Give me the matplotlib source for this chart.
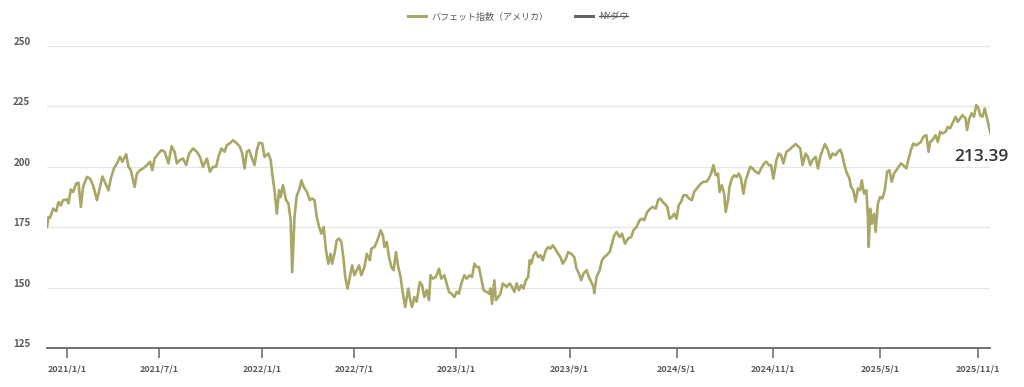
import matplotlib
matplotlib.use("Agg")
import matplotlib.pyplot as plt
import matplotlib.transforms as mtransforms
from matplotlib.lines import Line2D

plt.rcParams['font.family'] = ['Noto Sans CJK JP', 'DejaVu Sans']

# バフェット指数（アメリカ） - category index of each reading and its value
day_idx = [0, 2, 4, 8, 12, 15, 18, 21, 26, 28, 31, 34, 38, 41, 44, 47, 52, 56, 60, 65,
           68, 72, 76, 80, 83, 87, 91, 95, 98, 103, 106, 109, 114, 117, 121, 125, 130, 134, 137, 140,
           145, 149, 153, 158, 162, 166, 169, 173, 177, 181, 185, 190, 195, 199, 203, 208, 212,
           216, 220, 223, 227, 231, 234, 238, 242, 247, 251, 254, 257, 260, 263, 266, 270, 273, 276,
           280, 283, 288, 291, 293, 296, 299, 302, 304, 307, 311, 314, 317, 319, 322, 325, 328, 331,
           334, 338, 342, 345, 348, 351, 354, 357, 360, 363, 366, 369, 371, 374, 377, 380, 383, 386,
           388, 391, 394, 397, 400, 403, 406, 409, 413, 416, 420,
           422, 426, 429, 432, 434, 437, 439, 442, 445, 448, 451, 454, 457, 460, 463, 466, 470, 473,
           475, 478, 481, 485, 488, 491, 494, 497, 499, 502, 506, 510, 513, 517, 520, 523, 526, 530,
           533, 536, 539, 543, 546, 550, 553, 556, 559, 562, 565, 568, 572, 575, 577, 579, 582, 584,
           587, 590, 593, 598, 602, 605, 608, 611, 614, 617, 620, 623, 626, 628,
           630, 633, 636, 639, 642, 645, 649, 652, 655, 658, 661, 665, 668, 671, 675, 678, 682, 686,
           689, 692, 695, 698, 702, 705, 708, 711, 712, 715, 719, 722, 725, 728, 732, 735, 738, 741,
           745, 748, 752, 756, 760, 763, 767, 771, 774, 777, 781, 785, 788, 792, 795, 798, 801, 805,
           807, 810, 813, 816, 819, 822, 825, 828, 832, 835,
           839, 842, 847, 851, 854, 858, 861, 864, 867, 870, 873, 875, 878, 881, 883, 886, 888, 891,
           894, 897, 900, 903, 906, 909, 912, 915, 918, 922, 926, 929, 933, 936, 939, 942, 945, 949,
           952, 955, 958, 962, 966, 970, 974, 977, 980, 983, 987, 990, 993, 996, 1000, 1003, 1006,
           1009, 1012, 1016, 1019, 1022, 1026, 1029, 1032, 1034, 1037, 1040, 1044,
           1046, 1049, 1052, 1055, 1058, 1060, 1063, 1066, 1068, 1069, 1071, 1073, 1076, 1078, 1081,
           1084, 1087, 1090, 1093, 1096, 1099, 1102, 1105, 1108, 1111, 1114, 1118, 1121, 1124, 1127,
           1131, 1134, 1137, 1140, 1144, 1147, 1149, 1152, 1156, 1159, 1162, 1165, 1169, 1172, 1175,
           1178, 1182, 1185, 1188, 1191, 1195, 1197, 1200, 1203, 1206, 1209, 1212, 1214, 1217, 1220,
           1223, 1225, 1227, 1228]

buffett = [175.0, 179.2, 178.9, 182.7, 181.6, 185.4, 184.0, 186.2, 186.5, 184.9, 190.6, 189.6, 193.1,
           193.4, 183.4, 191.8, 195.8, 195.1, 192.3, 186.2,
           190.3, 196.0, 193.1, 190.3, 195.1, 199.3, 201.4, 204.1, 202.1, 205.2, 200.0, 198.6, 191.7,
           197.2, 198.6, 199.3, 200.7, 202.1, 198.6, 203.4,
           205.5, 206.9, 206.2, 201.4, 208.5, 206.2, 201.4, 202.8, 203.4, 200.7, 205.5, 207.6, 206.2,
           204.1, 200.0, 203.4, 197.9,
           200.0, 200.0, 204.1, 207.6, 206.2, 209.0, 209.7, 211.0, 209.7, 208.3, 205.5, 199.3, 206.2,
           206.9, 204.1, 200.7, 206.9, 209.9,
           209.7, 204.1, 205.5, 202.8, 197.2, 190.3, 180.6, 190.3, 187.5, 192.4, 186.2, 184.9, 177.9,
           156.4, 179.2, 188.1, 190.3, 194.4,
           191.7, 189.6, 186.2, 186.9, 186.2, 179.2, 175.1, 172.3, 175.1, 165.4, 159.9, 164.0, 159.9,
           164.0, 169.6, 170.3, 168.9, 161.3,
           154.4, 149.6, 154.4, 159.2, 155.1, 157.2, 159.2, 155.1, 158.5, 164.0, 161.3,
           166.1, 166.8, 168.9, 171.6, 173.7, 171.6, 166.8, 168.9, 162.6, 158.5, 157.2, 164.7, 158.5,
           154.4, 147.5, 142.0, 149.6, 144.2,
           142.0, 146.1, 144.2, 152.3, 151.0, 146.1, 148.9, 144.8, 155.1, 153.7, 154.4, 157.8, 153.7,
           155.1, 151.7, 148.2, 147.5, 146.1,
           148.2, 147.5, 151.7, 155.1, 153.7, 155.1, 154.4, 159.9, 158.5, 158.5, 153.7, 148.9, 148.2,
           147.5, 149.6, 143.3, 153.0, 144.8,
           146.1, 147.5, 151.7, 150.3, 151.7, 150.3, 148.2, 151.7, 148.9, 151.0, 149.6, 153.0, 154.4, 161.3,
           159.9, 163.4, 164.7, 162.6, 163.4, 161.3, 165.4, 166.8, 166.1, 167.5, 166.1, 164.0, 162.6,
           159.9, 161.9, 164.7, 164.0, 162.6,
           157.8, 155.8, 153.0, 155.8, 157.2, 154.4, 152.3, 150.3, 147.7, 154.4, 157.2, 161.3, 162.6,
           163.4, 164.7, 168.2, 171.6, 173.0,
           170.9, 172.3, 168.2, 170.3, 170.9, 173.7, 175.1, 177.9, 178.5, 177.9, 181.3, 182.7, 183.4,
           182.7, 186.2, 186.9, 185.5, 184.2,
           183.4, 178.5, 179.2, 180.6, 178.5, 184.2, 185.5, 188.2, 188.2, 186.9,
           186.2, 189.6, 191.7, 193.1, 193.8, 193.8, 195.1, 197.2, 200.7, 196.5, 197.2, 189.6, 192.4,
           188.8, 181.3, 186.2, 191.7, 195.1,
           196.5, 195.8, 197.2, 195.1, 188.8, 194.4, 197.2, 200.0, 199.3, 197.9, 197.2, 199.3, 201.4,
           202.1, 200.7, 200.7, 195.1, 202.8,
           205.5, 204.8, 201.4, 206.2, 207.1, 208.3, 209.4, 208.5, 207.6, 200.7, 205.5, 204.1, 200.7,
           202.8, 204.1, 199.3, 204.1,
           206.9, 209.4, 206.9, 203.4, 205.5, 204.8, 206.2, 207.1, 205.5, 201.4, 197.9, 195.1,
           191.7, 190.3, 185.5, 191.0, 190.3, 194.4, 188.9, 190.3, 179.2, 166.8, 182.6, 176.4, 180.5,
           173.0, 184.8,
           187.5, 186.9, 190.3, 197.9, 198.6, 193.8, 197.2, 198.6, 200.0, 201.4, 200.7, 199.3, 203.4,
           206.9, 209.6,
           208.9, 209.6, 210.3, 212.4, 213.1, 206.2, 210.3, 211.0, 213.1, 210.3, 214.5, 213.8, 214.5,
           216.5, 215.9,
           218.0, 220.7, 218.6, 220.0, 221.4, 220.0, 215.2, 220.0, 222.1, 220.7, 225.5, 224.1, 221.4,
           220.7, 224.1,
           220.0, 217.2, 214.5, 213.39]

tick_idx = [26, 146, 280, 400, 532, 680, 819, 945, 1084, 1211]
tick_labels = ['2021/1/1', '2021/7/1', '2022/1/1', '2022/7/1', '2023/1/1',
               '2023/9/1', '2024/5/1', '2024/11/1', '2025/5/1', '2025/11/1']
y_ticks = [125, 150, 175, 200, 225, 250]

line_color = '#a9a766'
text_color = '#5a5a5a'

fig = plt.figure(figsize=(10.24, 3.87), dpi=100)
ax = fig.add_axes([0.0459, 0.1008, 0.9210, 0.7804])

ax.plot(day_idx, buffett, color=line_color, lw=1.9, solid_joinstyle='round')

ax.set_xlim(0, 1227)
ax.set_ylim(125, 250)
ax.set_yticks(y_ticks)
ax.set_xticks(tick_idx)
ax.set_xticklabels(tick_labels)

for s in ['top', 'right', 'left']:
    ax.spines[s].set_visible(False)
ax.spines['bottom'].set_color('#666666')
ax.spines['bottom'].set_linewidth(1.3)
ax.grid(axis='y', color='#e6e6e6', lw=0.9)
ax.set_axisbelow(True)

ax.tick_params(axis='y', length=0, pad=12, labelsize=7, labelcolor=text_color)
ax.tick_params(axis='x', length=7, width=1.1, color='#666666', pad=5,
               labelsize=6.5, labelcolor=text_color)
for lab in ax.get_xticklabels() + ax.get_yticklabels():
    lab.set_fontweight('bold')

# y labels sit a little above their grid lines
shift = mtransforms.ScaledTranslation(0, 5 / 100, fig.dpi_scale_trans)
for lab in ax.get_yticklabels():
    lab.set_transform(lab.get_transform() + shift)
    lab.set_horizontalalignment('right')

# last value label
ax.annotate(f'{buffett[-1]:.2f}', xy=(day_idx[-1], buffett[-1]), xytext=(-7, -16),
            textcoords='offset points', ha='center', va='center', fontsize=12.5,
            family=['Open Sans', 'DejaVu Sans'], fontweight='semibold',
            color='#333333', annotation_clip=False)

# legend (NYダウ is shown as hidden / struck through)
handles = [Line2D([], [], color=line_color, lw=2.2),
           Line2D([], [], color='#666666', lw=2.2)]
leg = fig.legend(handles, ['バフェット指数（アメリカ）', 'NYダウ'], loc='center',
                 bbox_to_anchor=(0.5 + 6 / 1024, 1 - 17 / 387), ncol=2, frameon=False,
                 fontsize=6.5, handlelength=2.0, handletextpad=0.6, columnspacing=3.0,
                 labelcolor=text_color)

fig.canvas.draw()
bb = leg.get_texts()[1].get_window_extent()
ymid = bb.y0 + 0.55 * (bb.y1 - bb.y0) + 1
fig.add_artist(Line2D([bb.x0, bb.x1], [ymid, ymid], color=text_color, lw=0.9,
                      transform=None))

fig.savefig('out.png', dpi=100)
